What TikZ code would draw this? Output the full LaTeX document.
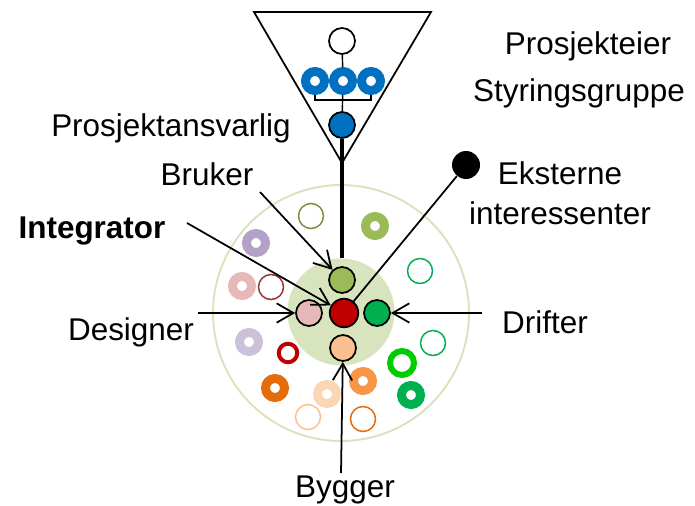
\documentclass[tikz,border=0pt]{standalone}
\usepackage{fontspec}
\setmainfont{Liberation Sans}
\usetikzlibrary{arrows.meta}
\definecolor{disc}{HTML}{D7E4BD}
\definecolor{steer}{HTML}{0070C0}
\definecolor{olive}{HTML}{9BBB59}
\definecolor{darkolive}{HTML}{77933C}
\definecolor{crimson}{HTML}{C00000}
\definecolor{rose}{HTML}{E6B9B8}
\definecolor{darkrose}{HTML}{953735}
\definecolor{grass}{HTML}{00B050}
\definecolor{lime}{HTML}{00CC00}
\definecolor{peach}{HTML}{FAC090}
\definecolor{palepeach}{HTML}{FCD5B5}
\definecolor{amber}{HTML}{F79646}
\definecolor{rust}{HTML}{E46C0A}
\definecolor{lilac}{HTML}{B3A2C7}
\definecolor{palelilac}{HTML}{CCC1DA}
\tikzset{
  member/.style={circle,draw=black,line width=1pt,minimum size=0.52cm,inner sep=0pt},
  ring/.style={circle,draw=#1,line width=0.18cm,minimum size=0.38cm,inner sep=0pt},
  hollow/.style={circle,draw=#1,line width=0.85pt,minimum size=0.5cm,inner sep=0pt},
  role/.style={font=\fontsize{17.9}{22.7}\selectfont,inner sep=0pt},
  pointer/.style={-{Straight Barb[length=9.5pt,width=11pt]},line width=1pt},
}
\begin{document}
\begin{tikzpicture}[x=0.02cm,y=-0.02cm]
\useasboundingbox (0,0) rectangle (695,506);

\node[circle,draw=disc,line width=1.1pt,minimum size=5.12cm] (field) at (341,313) {};
\node[circle,fill=disc,minimum size=2.14cm] (core) at (341,312) {};

\node[hollow=darkolive] (s1) at (311,216) {};
\node[ring=olive] (s2) at (375,226) {};
\node[ring=lilac] (s3) at (256,243) {};
\node[ring=rose] (s4) at (242,286) {};
\node[hollow=darkrose] (s5) at (271,287) {};
\node[hollow=grass] (s6) at (420,271) {};
\node[ring=palelilac] (s7) at (249,342) {};
\node[ring=crimson,line width=0.08cm,minimum size=0.37cm] (s8) at (288,353) {};
\node[hollow=grass] (s9) at (433,343) {};
\node[ring=lime,line width=0.12cm,minimum size=0.48cm] (s10) at (402,363) {};
\node[ring=grass] (s11) at (411,395) {};
\node[ring=rust] (s12) at (275,388) {};
\node[ring=palepeach] (s13) at (327,394) {};
\node[ring=amber] (s14) at (363,381) {};
\node[hollow=peach] (s15) at (308,417) {};
\node[hollow=rust] (s16) at (363,419) {};

\node[member,fill=olive] (user) at (342,280) {};
\node[member,fill=crimson,minimum size=0.57cm] (integrator) at (344,313) {};
\node[member,fill=rose] (designer) at (309,313) {};
\node[member,fill=grass] (operator) at (377,313) {};
\node[member,fill=peach] (builder) at (343,348) {};

\draw[line width=1pt] (254,12) -- (431,12) -- (342,163) -- cycle;
\node[member,fill=white] (owner) at (342,41) {};
\node[ring=steer] (board1) at (315,81) {};
\node[ring=steer] (board2) at (343,81) {};
\node[ring=steer] (board3) at (371,81) {};
\node[member,fill=steer] (lead) at (342,125) {};
\coordinate (fork) at (342,100);
\draw[line width=0.8pt] (owner) -- (board2);
\draw[line width=0.8pt] (board1) -- (board1 |- fork) -- (board3 |- fork) -- (board3);
\draw[line width=0.8pt] (board2) -- (lead);
\draw[line width=2.5pt] (lead) -- (lead |- core.north);

\node[circle,fill=black,minimum size=0.56cm,inner sep=0pt] (ext) at (466,165) {};
\draw[line width=1pt] (ext) -- (integrator);

\node[role,anchor=base] (tOwner) at (588,55) {Prosjekteier};
\node[role,anchor=base] (tBoard) at (579,102) {Styringsgruppe};
\node[role,anchor=base] (tLead) at (171,137) {Prosjektansvarlig};
\node[role,anchor=base] (tUser) at (207,186) {Bruker};
\node[role,anchor=base,font=\fontsize{17.9}{22.7}\selectfont\bfseries] (tInteg) at (92,238) {Integrator};
\node[role,anchor=north,align=center] (tExt) at (560,161) {Eksterne\\interessenter};
\node[role,anchor=base] (tDesign) at (131,340) {Designer};
\node[role,anchor=base] (tOps) at (545,333) {Drifter};
\node[role,anchor=base] (tBuild) at (345,497) {Bygger};

\coordinate (fromUser) at (260,192);
\coordinate (fromInteg) at (187,223);
\coordinate (fromDesign) at (198,313);
\coordinate (fromOps) at (482,313);
\coordinate (fromBuild) at (341,473);
\draw[pointer] (fromUser) -- (user);
\draw[pointer] (fromInteg) -- (integrator);
\draw[pointer] (fromDesign) -- (designer);
\draw[pointer] (fromOps) -- (operator);
\draw[pointer] (fromBuild) -- (builder);
\end{tikzpicture}
\end{document}
